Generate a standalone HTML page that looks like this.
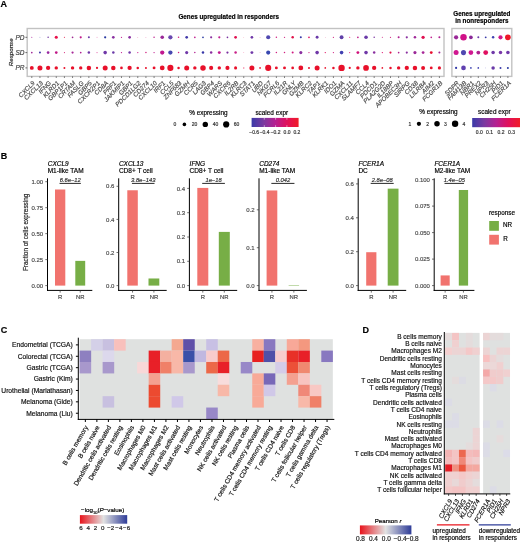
<!DOCTYPE html>
<html><head><meta charset="utf-8"><style>
html,body{margin:0;padding:0;background:#fff;width:520px;height:544px;overflow:hidden;}
svg{display:block;will-change:transform;}
text{font-family:"Liberation Sans", sans-serif;}
</style></head><body>
<svg width="520" height="544" viewBox="0 0 520 544">
<text x="0.60" y="7.20" font-size="9" font-weight="bold" stroke="#000" stroke-width="0.18">A</text>
<text x="228.70" y="19.30" font-size="6.3" text-anchor="middle" font-weight="bold" stroke="#000" stroke-width="0.18">Genes upregulated in responders</text>
<text x="481.85" y="15.60" font-size="6.3" text-anchor="middle" font-weight="bold" stroke="#000" stroke-width="0.18">Genes upregulated</text>
<text x="481.85" y="22.80" font-size="6.3" text-anchor="middle" font-weight="bold" stroke="#000" stroke-width="0.18">in nonresponders</text>
<rect x="27.2" y="28.5" width="416.80" height="47.90" fill="#fff" stroke="#c2c2c2" stroke-width="1.4"/>
<rect x="451.9" y="28.5" width="59.90" height="47.90" fill="#fff" stroke="#c2c2c2" stroke-width="1.4"/>
<text x="24.50" y="39.60" font-size="6.5" text-anchor="end" font-style="italic" fill="#444" stroke="#444" stroke-width="0.18">PD</text>
<line x1="25.40" y1="37.30" x2="27.20" y2="37.30" stroke="#333" stroke-width="0.7"/>
<text x="24.50" y="54.90" font-size="6.5" text-anchor="end" font-style="italic" fill="#444" stroke="#444" stroke-width="0.18">SD</text>
<line x1="25.40" y1="52.60" x2="27.20" y2="52.60" stroke="#333" stroke-width="0.7"/>
<text x="24.50" y="70.20" font-size="6.5" text-anchor="end" font-style="italic" fill="#444" stroke="#444" stroke-width="0.18">PR</text>
<line x1="25.40" y1="67.90" x2="27.20" y2="67.90" stroke="#333" stroke-width="0.7"/>
<text x="12.60" y="52.30" font-size="6.2" text-anchor="middle" font-style="italic" fill="#222" stroke="#222" stroke-width="0.18" transform="rotate(-90 12.60 52.30)">Response</text>
<circle cx="31.80" cy="37.30" r="0.55" fill="#b030a0"/>
<circle cx="31.80" cy="52.60" r="0.85" fill="#a02898"/>
<circle cx="31.80" cy="67.90" r="1.95" fill="#e8102a"/>
<line x1="31.80" y1="76.40" x2="31.80" y2="77.90" stroke="#333" stroke-width="0.7"/>
<text x="35.30" y="83.60" font-size="6.3" text-anchor="end" font-style="italic" fill="#4d4d4d" stroke="#4d4d4d" stroke-width="0.18" transform="rotate(-45 35.30 83.60)">CXCL9</text>
<circle cx="39.95" cy="37.30" r="0.45" fill="#8080c8"/>
<circle cx="39.95" cy="52.60" r="1.00" fill="#4038a8"/>
<circle cx="39.95" cy="67.90" r="2.50" fill="#e8102a"/>
<line x1="39.95" y1="76.40" x2="39.95" y2="77.90" stroke="#333" stroke-width="0.7"/>
<text x="43.45" y="83.60" font-size="6.3" text-anchor="end" font-style="italic" fill="#4d4d4d" stroke="#4d4d4d" stroke-width="0.18" transform="rotate(-45 43.45 83.60)">CXCL13</text>
<circle cx="48.10" cy="37.30" r="0.75" fill="#7038a0"/>
<circle cx="48.10" cy="52.60" r="1.35" fill="#9828a0"/>
<circle cx="48.10" cy="67.90" r="2.15" fill="#e8102a"/>
<line x1="48.10" y1="76.40" x2="48.10" y2="77.90" stroke="#333" stroke-width="0.7"/>
<text x="51.60" y="83.60" font-size="6.3" text-anchor="end" font-style="italic" fill="#4d4d4d" stroke="#4d4d4d" stroke-width="0.18" transform="rotate(-45 51.60 83.60)">IFNG</text>
<circle cx="56.26" cy="37.30" r="1.55" fill="#e8104a"/>
<circle cx="56.26" cy="52.60" r="1.35" fill="#c01888"/>
<circle cx="56.26" cy="67.90" r="1.70" fill="#e8102a"/>
<line x1="56.26" y1="76.40" x2="56.26" y2="77.90" stroke="#333" stroke-width="0.7"/>
<text x="59.76" y="83.60" font-size="6.3" text-anchor="end" font-style="italic" fill="#4d4d4d" stroke="#4d4d4d" stroke-width="0.18" transform="rotate(-45 59.76 83.60)">KLRD1</text>
<circle cx="64.41" cy="37.30" r="0.55" fill="#e01040"/>
<circle cx="64.41" cy="52.60" r="0.55" fill="#d01870"/>
<circle cx="64.41" cy="67.90" r="1.00" fill="#e8102a"/>
<line x1="64.41" y1="76.40" x2="64.41" y2="77.90" stroke="#333" stroke-width="0.7"/>
<text x="67.91" y="83.60" font-size="6.3" text-anchor="end" font-style="italic" fill="#4d4d4d" stroke="#4d4d4d" stroke-width="0.18" transform="rotate(-45 67.91 83.60)">GBP1P1</text>
<circle cx="72.56" cy="37.30" r="0.85" fill="#a02890"/>
<circle cx="72.56" cy="52.60" r="1.10" fill="#a82898"/>
<circle cx="72.56" cy="67.90" r="1.70" fill="#e8102a"/>
<line x1="72.56" y1="76.40" x2="72.56" y2="77.90" stroke="#333" stroke-width="0.7"/>
<text x="76.06" y="83.60" font-size="6.3" text-anchor="end" font-style="italic" fill="#4d4d4d" stroke="#4d4d4d" stroke-width="0.18" transform="rotate(-45 76.06 83.60)">CRTAM</text>
<circle cx="80.71" cy="37.30" r="1.10" fill="#c0188a"/>
<circle cx="80.71" cy="52.60" r="0.85" fill="#b02090"/>
<circle cx="80.71" cy="67.90" r="1.70" fill="#e8102a"/>
<line x1="80.71" y1="76.40" x2="80.71" y2="77.90" stroke="#333" stroke-width="0.7"/>
<text x="84.21" y="83.60" font-size="6.3" text-anchor="end" font-style="italic" fill="#4d4d4d" stroke="#4d4d4d" stroke-width="0.18" transform="rotate(-45 84.21 83.60)">FASLG</text>
<circle cx="88.86" cy="37.30" r="1.00" fill="#6a3aa8"/>
<circle cx="88.86" cy="52.60" r="1.25" fill="#7038a8"/>
<circle cx="88.86" cy="67.90" r="2.25" fill="#e8102a"/>
<line x1="88.86" y1="76.40" x2="88.86" y2="77.90" stroke="#333" stroke-width="0.7"/>
<text x="92.36" y="83.60" font-size="6.3" text-anchor="end" font-style="italic" fill="#4d4d4d" stroke="#4d4d4d" stroke-width="0.18" transform="rotate(-45 92.36 83.60)">GBP5</text>
<circle cx="97.02" cy="37.30" r="0.45" fill="#e060a8"/>
<circle cx="97.02" cy="52.60" r="0.55" fill="#e050a0"/>
<circle cx="97.02" cy="67.90" r="1.10" fill="#e8102a"/>
<line x1="97.02" y1="76.40" x2="97.02" y2="77.90" stroke="#333" stroke-width="0.7"/>
<text x="100.52" y="83.60" font-size="6.3" text-anchor="end" font-style="italic" fill="#4d4d4d" stroke="#4d4d4d" stroke-width="0.18" transform="rotate(-45 100.52 83.60)">CXCR2P1</text>
<circle cx="105.17" cy="37.30" r="1.10" fill="#2838a0"/>
<circle cx="105.17" cy="52.60" r="1.80" fill="#7038a8"/>
<circle cx="105.17" cy="67.90" r="2.50" fill="#e8102a"/>
<line x1="105.17" y1="76.40" x2="105.17" y2="77.90" stroke="#333" stroke-width="0.7"/>
<text x="108.67" y="83.60" font-size="6.3" text-anchor="end" font-style="italic" fill="#4d4d4d" stroke="#4d4d4d" stroke-width="0.18" transform="rotate(-45 108.67 83.60)">CD8A</text>
<circle cx="113.32" cy="37.30" r="1.35" fill="#8a30a0"/>
<circle cx="113.32" cy="52.60" r="1.25" fill="#6a3aa8"/>
<circle cx="113.32" cy="67.90" r="2.25" fill="#e8102a"/>
<line x1="113.32" y1="76.40" x2="113.32" y2="77.90" stroke="#333" stroke-width="0.7"/>
<text x="116.82" y="83.60" font-size="6.3" text-anchor="end" font-style="italic" fill="#4d4d4d" stroke="#4d4d4d" stroke-width="0.18" transform="rotate(-45 116.82 83.60)">PRF1</text>
<circle cx="121.47" cy="37.30" r="0.65" fill="#c01890"/>
<circle cx="121.47" cy="52.60" r="0.65" fill="#c01890"/>
<circle cx="121.47" cy="67.90" r="1.35" fill="#e8102a"/>
<line x1="121.47" y1="76.40" x2="121.47" y2="77.90" stroke="#333" stroke-width="0.7"/>
<text x="124.97" y="83.60" font-size="6.3" text-anchor="end" font-style="italic" fill="#4d4d4d" stroke="#4d4d4d" stroke-width="0.18" transform="rotate(-45 124.97 83.60)">JAKMIP1</text>
<circle cx="129.62" cy="37.30" r="1.35" fill="#8a30a0"/>
<circle cx="129.62" cy="52.60" r="1.25" fill="#7038a8"/>
<circle cx="129.62" cy="67.90" r="2.15" fill="#e8102a"/>
<line x1="129.62" y1="76.40" x2="129.62" y2="77.90" stroke="#333" stroke-width="0.7"/>
<text x="133.12" y="83.60" font-size="6.3" text-anchor="end" font-style="italic" fill="#4d4d4d" stroke="#4d4d4d" stroke-width="0.18" transform="rotate(-45 133.12 83.60)">GBP1</text>
<circle cx="137.78" cy="37.30" r="0.40" fill="#e060a0"/>
<circle cx="137.78" cy="52.60" r="0.65" fill="#d02090"/>
<circle cx="137.78" cy="67.90" r="1.25" fill="#e8102a"/>
<line x1="137.78" y1="76.40" x2="137.78" y2="77.90" stroke="#333" stroke-width="0.7"/>
<text x="141.28" y="83.60" font-size="6.3" text-anchor="end" font-style="italic" fill="#4d4d4d" stroke="#4d4d4d" stroke-width="0.18" transform="rotate(-45 141.28 83.60)">PDCD1LG2</text>
<circle cx="145.93" cy="37.30" r="0.40" fill="#e060a0"/>
<circle cx="145.93" cy="52.60" r="0.75" fill="#d02080"/>
<circle cx="145.93" cy="67.90" r="1.00" fill="#e8102a"/>
<line x1="145.93" y1="76.40" x2="145.93" y2="77.90" stroke="#333" stroke-width="0.7"/>
<text x="149.43" y="83.60" font-size="6.3" text-anchor="end" font-style="italic" fill="#4d4d4d" stroke="#4d4d4d" stroke-width="0.18" transform="rotate(-45 149.43 83.60)">CD274</text>
<circle cx="154.08" cy="37.30" r="0.75" fill="#c02090"/>
<circle cx="154.08" cy="52.60" r="0.65" fill="#c02090"/>
<circle cx="154.08" cy="67.90" r="1.45" fill="#e8102a"/>
<line x1="154.08" y1="76.40" x2="154.08" y2="77.90" stroke="#333" stroke-width="0.7"/>
<text x="157.58" y="83.60" font-size="6.3" text-anchor="end" font-style="italic" fill="#4d4d4d" stroke="#4d4d4d" stroke-width="0.18" transform="rotate(-45 157.58 83.60)">CXCL10</text>
<circle cx="162.23" cy="37.30" r="1.80" fill="#9a2898"/>
<circle cx="162.23" cy="52.60" r="2.15" fill="#c01890"/>
<circle cx="162.23" cy="67.90" r="2.40" fill="#e8102a"/>
<line x1="162.23" y1="76.40" x2="162.23" y2="77.90" stroke="#333" stroke-width="0.7"/>
<text x="165.73" y="83.60" font-size="6.3" text-anchor="end" font-style="italic" fill="#4d4d4d" stroke="#4d4d4d" stroke-width="0.18" transform="rotate(-45 165.73 83.60)">IRF1</text>
<circle cx="170.38" cy="37.30" r="2.15" fill="#6a48b0"/>
<circle cx="170.38" cy="52.60" r="2.15" fill="#4848b0"/>
<circle cx="170.38" cy="67.90" r="3.05" fill="#e8102a"/>
<line x1="170.38" y1="76.40" x2="170.38" y2="77.90" stroke="#333" stroke-width="0.7"/>
<text x="173.88" y="83.60" font-size="6.3" text-anchor="end" font-style="italic" fill="#4d4d4d" stroke="#4d4d4d" stroke-width="0.18" transform="rotate(-45 173.88 83.60)">CCL5</text>
<circle cx="178.54" cy="37.30" r="0.75" fill="#d02080"/>
<circle cx="178.54" cy="52.60" r="0.75" fill="#d02080"/>
<circle cx="178.54" cy="67.90" r="1.25" fill="#e8102a"/>
<line x1="178.54" y1="76.40" x2="178.54" y2="77.90" stroke="#333" stroke-width="0.7"/>
<text x="182.04" y="83.60" font-size="6.3" text-anchor="end" font-style="italic" fill="#4d4d4d" stroke="#4d4d4d" stroke-width="0.18" transform="rotate(-45 182.04 83.60)">ZNF683</text>
<circle cx="186.69" cy="37.30" r="1.35" fill="#4038a8"/>
<circle cx="186.69" cy="52.60" r="1.55" fill="#7038a8"/>
<circle cx="186.69" cy="67.90" r="2.50" fill="#e8102a"/>
<line x1="186.69" y1="76.40" x2="186.69" y2="77.90" stroke="#333" stroke-width="0.7"/>
<text x="190.19" y="83.60" font-size="6.3" text-anchor="end" font-style="italic" fill="#4d4d4d" stroke="#4d4d4d" stroke-width="0.18" transform="rotate(-45 190.19 83.60)">GZMH</text>
<circle cx="194.84" cy="37.30" r="0.85" fill="#c02090"/>
<circle cx="194.84" cy="52.60" r="0.75" fill="#b02090"/>
<circle cx="194.84" cy="67.90" r="1.70" fill="#e8102a"/>
<line x1="194.84" y1="76.40" x2="194.84" y2="77.90" stroke="#333" stroke-width="0.7"/>
<text x="198.34" y="83.60" font-size="6.3" text-anchor="end" font-style="italic" fill="#4d4d4d" stroke="#4d4d4d" stroke-width="0.18" transform="rotate(-45 198.34 83.60)">CCR5</text>
<circle cx="202.99" cy="37.30" r="0.85" fill="#2838a0"/>
<circle cx="202.99" cy="52.60" r="1.25" fill="#3838a8"/>
<circle cx="202.99" cy="67.90" r="2.75" fill="#e8102a"/>
<line x1="202.99" y1="76.40" x2="202.99" y2="77.90" stroke="#333" stroke-width="0.7"/>
<text x="206.49" y="83.60" font-size="6.3" text-anchor="end" font-style="italic" fill="#4d4d4d" stroke="#4d4d4d" stroke-width="0.18" transform="rotate(-45 206.49 83.60)">LAG3</text>
<circle cx="211.14" cy="37.30" r="1.10" fill="#8a30a0"/>
<circle cx="211.14" cy="52.60" r="1.25" fill="#8a30a0"/>
<circle cx="211.14" cy="67.90" r="2.05" fill="#e8102a"/>
<line x1="211.14" y1="76.40" x2="211.14" y2="77.90" stroke="#333" stroke-width="0.7"/>
<text x="214.64" y="83.60" font-size="6.3" text-anchor="end" font-style="italic" fill="#4d4d4d" stroke="#4d4d4d" stroke-width="0.18" transform="rotate(-45 214.64 83.60)">GBP4</text>
<circle cx="219.30" cy="37.30" r="1.10" fill="#c02090"/>
<circle cx="219.30" cy="52.60" r="1.45" fill="#c01890"/>
<circle cx="219.30" cy="67.90" r="1.70" fill="#e8102a"/>
<line x1="219.30" y1="76.40" x2="219.30" y2="77.90" stroke="#333" stroke-width="0.7"/>
<text x="222.80" y="83.60" font-size="6.3" text-anchor="end" font-style="italic" fill="#4d4d4d" stroke="#4d4d4d" stroke-width="0.18" transform="rotate(-45 222.80 83.60)">WARS</text>
<circle cx="227.45" cy="37.30" r="0.85" fill="#7a30a0"/>
<circle cx="227.45" cy="52.60" r="1.10" fill="#7a30a0"/>
<circle cx="227.45" cy="67.90" r="2.05" fill="#e8102a"/>
<line x1="227.45" y1="76.40" x2="227.45" y2="77.90" stroke="#333" stroke-width="0.7"/>
<text x="230.95" y="83.60" font-size="6.3" text-anchor="end" font-style="italic" fill="#4d4d4d" stroke="#4d4d4d" stroke-width="0.18" transform="rotate(-45 230.95 83.60)">CXCR6</text>
<circle cx="235.60" cy="37.30" r="1.35" fill="#e01050"/>
<circle cx="235.60" cy="52.60" r="1.25" fill="#c82088"/>
<circle cx="235.60" cy="67.90" r="1.55" fill="#e8102a"/>
<line x1="235.60" y1="76.40" x2="235.60" y2="77.90" stroke="#333" stroke-width="0.7"/>
<text x="239.10" y="83.60" font-size="6.3" text-anchor="end" font-style="italic" fill="#4d4d4d" stroke="#4d4d4d" stroke-width="0.18" transform="rotate(-45 239.10 83.60)">IL2RB</text>
<circle cx="243.75" cy="37.30" r="0.35" fill="#f080a0"/>
<circle cx="243.75" cy="52.60" r="0.45" fill="#f070a0"/>
<circle cx="243.75" cy="67.90" r="0.75" fill="#f07090"/>
<line x1="243.75" y1="76.40" x2="243.75" y2="77.90" stroke="#333" stroke-width="0.7"/>
<text x="247.25" y="83.60" font-size="6.3" text-anchor="end" font-style="italic" fill="#4d4d4d" stroke="#4d4d4d" stroke-width="0.18" transform="rotate(-45 247.25 83.60)">KLRC3</text>
<circle cx="251.90" cy="37.30" r="1.35" fill="#7038a8"/>
<circle cx="251.90" cy="52.60" r="1.45" fill="#7038a8"/>
<circle cx="251.90" cy="67.90" r="2.50" fill="#e8102a"/>
<line x1="251.90" y1="76.40" x2="251.90" y2="77.90" stroke="#333" stroke-width="0.7"/>
<text x="255.40" y="83.60" font-size="6.3" text-anchor="end" font-style="italic" fill="#4d4d4d" stroke="#4d4d4d" stroke-width="0.18" transform="rotate(-45 255.40 83.60)">STAT1</text>
<circle cx="260.06" cy="37.30" r="0.40" fill="#e060a0"/>
<circle cx="260.06" cy="52.60" r="0.40" fill="#e060a0"/>
<circle cx="260.06" cy="67.90" r="0.85" fill="#e8102a"/>
<line x1="260.06" y1="76.40" x2="260.06" y2="77.90" stroke="#333" stroke-width="0.7"/>
<text x="263.56" y="83.60" font-size="6.3" text-anchor="end" font-style="italic" fill="#4d4d4d" stroke="#4d4d4d" stroke-width="0.18" transform="rotate(-45 263.56 83.60)">UBD</text>
<circle cx="268.21" cy="37.30" r="2.05" fill="#5048b0"/>
<circle cx="268.21" cy="52.60" r="2.05" fill="#3848b0"/>
<circle cx="268.21" cy="67.90" r="3.05" fill="#e8102a"/>
<line x1="268.21" y1="76.40" x2="268.21" y2="77.90" stroke="#333" stroke-width="0.7"/>
<text x="271.71" y="83.60" font-size="6.3" text-anchor="end" font-style="italic" fill="#4d4d4d" stroke="#4d4d4d" stroke-width="0.18" transform="rotate(-45 271.71 83.60)">NKG7</text>
<circle cx="276.36" cy="37.30" r="0.75" fill="#d02080"/>
<circle cx="276.36" cy="52.60" r="0.75" fill="#d02080"/>
<circle cx="276.36" cy="67.90" r="1.45" fill="#e8102a"/>
<line x1="276.36" y1="76.40" x2="276.36" y2="77.90" stroke="#333" stroke-width="0.7"/>
<text x="279.86" y="83.60" font-size="6.3" text-anchor="end" font-style="italic" fill="#4d4d4d" stroke="#4d4d4d" stroke-width="0.18" transform="rotate(-45 279.86 83.60)">FCRL6</text>
<circle cx="284.51" cy="37.30" r="0.65" fill="#d02080"/>
<circle cx="284.51" cy="52.60" r="0.75" fill="#d02080"/>
<circle cx="284.51" cy="67.90" r="1.45" fill="#e8102a"/>
<line x1="284.51" y1="76.40" x2="284.51" y2="77.90" stroke="#333" stroke-width="0.7"/>
<text x="288.01" y="83.60" font-size="6.3" text-anchor="end" font-style="italic" fill="#4d4d4d" stroke="#4d4d4d" stroke-width="0.18" transform="rotate(-45 288.01 83.60)">IL21R</text>
<circle cx="292.66" cy="37.30" r="1.25" fill="#e01048"/>
<circle cx="292.66" cy="52.60" r="1.00" fill="#d01880"/>
<circle cx="292.66" cy="67.90" r="1.35" fill="#e8102a"/>
<line x1="292.66" y1="76.40" x2="292.66" y2="77.90" stroke="#333" stroke-width="0.7"/>
<text x="296.16" y="83.60" font-size="6.3" text-anchor="end" font-style="italic" fill="#4d4d4d" stroke="#4d4d4d" stroke-width="0.18" transform="rotate(-45 296.16 83.60)">GNLY</text>
<circle cx="300.82" cy="37.30" r="1.00" fill="#3838a8"/>
<circle cx="300.82" cy="52.60" r="1.55" fill="#8a30a0"/>
<circle cx="300.82" cy="67.90" r="2.40" fill="#e8102a"/>
<line x1="300.82" y1="76.40" x2="300.82" y2="77.90" stroke="#333" stroke-width="0.7"/>
<text x="304.32" y="83.60" font-size="6.3" text-anchor="end" font-style="italic" fill="#4d4d4d" stroke="#4d4d4d" stroke-width="0.18" transform="rotate(-45 304.32 83.60)">GZMB</text>
<circle cx="308.97" cy="37.30" r="0.85" fill="#e01060"/>
<circle cx="308.97" cy="52.60" r="0.65" fill="#d02080"/>
<circle cx="308.97" cy="67.90" r="1.00" fill="#e8102a"/>
<line x1="308.97" y1="76.40" x2="308.97" y2="77.90" stroke="#333" stroke-width="0.7"/>
<text x="312.47" y="83.60" font-size="6.3" text-anchor="end" font-style="italic" fill="#4d4d4d" stroke="#4d4d4d" stroke-width="0.18" transform="rotate(-45 312.47 83.60)">KLRC2</text>
<circle cx="317.12" cy="37.30" r="1.45" fill="#6a3aa8"/>
<circle cx="317.12" cy="52.60" r="1.80" fill="#7038a8"/>
<circle cx="317.12" cy="67.90" r="2.50" fill="#e8102a"/>
<line x1="317.12" y1="76.40" x2="317.12" y2="77.90" stroke="#333" stroke-width="0.7"/>
<text x="320.62" y="83.60" font-size="6.3" text-anchor="end" font-style="italic" fill="#4d4d4d" stroke="#4d4d4d" stroke-width="0.18" transform="rotate(-45 320.62 83.60)">TAP1</text>
<circle cx="325.27" cy="37.30" r="0.35" fill="#e070a0"/>
<circle cx="325.27" cy="52.60" r="0.65" fill="#e01060"/>
<circle cx="325.27" cy="67.90" r="0.85" fill="#e8102a"/>
<line x1="325.27" y1="76.40" x2="325.27" y2="77.90" stroke="#333" stroke-width="0.7"/>
<text x="328.77" y="83.60" font-size="6.3" text-anchor="end" font-style="italic" fill="#4d4d4d" stroke="#4d4d4d" stroke-width="0.18" transform="rotate(-45 328.77 83.60)">KLRK1</text>
<circle cx="333.42" cy="37.30" r="0.65" fill="#d02080"/>
<circle cx="333.42" cy="52.60" r="0.65" fill="#d02080"/>
<circle cx="333.42" cy="67.90" r="1.25" fill="#e8102a"/>
<line x1="333.42" y1="76.40" x2="333.42" y2="77.90" stroke="#333" stroke-width="0.7"/>
<text x="336.92" y="83.60" font-size="6.3" text-anchor="end" font-style="italic" fill="#4d4d4d" stroke="#4d4d4d" stroke-width="0.18" transform="rotate(-45 336.92 83.60)">IDO1</text>
<circle cx="341.58" cy="37.30" r="1.95" fill="#6040a8"/>
<circle cx="341.58" cy="52.60" r="1.80" fill="#4040b0"/>
<circle cx="341.58" cy="67.90" r="3.20" fill="#e8102a"/>
<line x1="341.58" y1="76.40" x2="341.58" y2="77.90" stroke="#333" stroke-width="0.7"/>
<text x="345.08" y="83.60" font-size="6.3" text-anchor="end" font-style="italic" fill="#4d4d4d" stroke="#4d4d4d" stroke-width="0.18" transform="rotate(-45 345.08 83.60)">GZMA</text>
<circle cx="349.73" cy="37.30" r="0.55" fill="#e01070"/>
<circle cx="349.73" cy="52.60" r="0.55" fill="#e01070"/>
<circle cx="349.73" cy="67.90" r="1.10" fill="#e8102a"/>
<line x1="349.73" y1="76.40" x2="349.73" y2="77.90" stroke="#333" stroke-width="0.7"/>
<text x="353.23" y="83.60" font-size="6.3" text-anchor="end" font-style="italic" fill="#4d4d4d" stroke="#4d4d4d" stroke-width="0.18" transform="rotate(-45 353.23 83.60)">CXCL11</text>
<circle cx="357.88" cy="37.30" r="0.85" fill="#c02088"/>
<circle cx="357.88" cy="52.60" r="1.45" fill="#d0107a"/>
<circle cx="357.88" cy="67.90" r="1.70" fill="#e8102a"/>
<line x1="357.88" y1="76.40" x2="357.88" y2="77.90" stroke="#333" stroke-width="0.7"/>
<text x="361.38" y="83.60" font-size="6.3" text-anchor="end" font-style="italic" fill="#4d4d4d" stroke="#4d4d4d" stroke-width="0.18" transform="rotate(-45 361.38 83.60)">SLAMF7</text>
<circle cx="366.03" cy="37.30" r="1.80" fill="#6a3aa8"/>
<circle cx="366.03" cy="52.60" r="1.80" fill="#7038a8"/>
<circle cx="366.03" cy="67.90" r="2.85" fill="#e8102a"/>
<line x1="366.03" y1="76.40" x2="366.03" y2="77.90" stroke="#333" stroke-width="0.7"/>
<text x="369.53" y="83.60" font-size="6.3" text-anchor="end" font-style="italic" fill="#4d4d4d" stroke="#4d4d4d" stroke-width="0.18" transform="rotate(-45 369.53 83.60)">CCL4</text>
<circle cx="374.18" cy="37.30" r="0.75" fill="#7a30a0"/>
<circle cx="374.18" cy="52.60" r="1.25" fill="#8a30a0"/>
<circle cx="374.18" cy="67.90" r="2.15" fill="#e8102a"/>
<line x1="374.18" y1="76.40" x2="374.18" y2="77.90" stroke="#333" stroke-width="0.7"/>
<text x="377.68" y="83.60" font-size="6.3" text-anchor="end" font-style="italic" fill="#4d4d4d" stroke="#4d4d4d" stroke-width="0.18" transform="rotate(-45 377.68 83.60)">PDCD1</text>
<circle cx="382.34" cy="37.30" r="0.55" fill="#d02080"/>
<circle cx="382.34" cy="52.60" r="0.65" fill="#e01070"/>
<circle cx="382.34" cy="67.90" r="0.85" fill="#e8102a"/>
<line x1="382.34" y1="76.40" x2="382.34" y2="77.90" stroke="#333" stroke-width="0.7"/>
<text x="385.84" y="83.60" font-size="6.3" text-anchor="end" font-style="italic" fill="#4d4d4d" stroke="#4d4d4d" stroke-width="0.18" transform="rotate(-45 385.84 83.60)">PLA2G2D</text>
<circle cx="390.49" cy="37.30" r="0.65" fill="#d02080"/>
<circle cx="390.49" cy="52.60" r="1.10" fill="#e01048"/>
<circle cx="390.49" cy="67.90" r="1.25" fill="#e8102a"/>
<line x1="390.49" y1="76.40" x2="390.49" y2="77.90" stroke="#333" stroke-width="0.7"/>
<text x="393.99" y="83.60" font-size="6.3" text-anchor="end" font-style="italic" fill="#4d4d4d" stroke="#4d4d4d" stroke-width="0.18" transform="rotate(-45 393.99 83.60)">IL18BP</text>
<circle cx="398.64" cy="37.30" r="1.00" fill="#b02090"/>
<circle cx="398.64" cy="52.60" r="0.85" fill="#b02090"/>
<circle cx="398.64" cy="67.90" r="1.70" fill="#e8102a"/>
<line x1="398.64" y1="76.40" x2="398.64" y2="77.90" stroke="#333" stroke-width="0.7"/>
<text x="402.14" y="83.60" font-size="6.3" text-anchor="end" font-style="italic" fill="#4d4d4d" stroke="#4d4d4d" stroke-width="0.18" transform="rotate(-45 402.14 83.60)">APOBEC3H</text>
<circle cx="406.79" cy="37.30" r="1.10" fill="#8a30a0"/>
<circle cx="406.79" cy="52.60" r="1.10" fill="#8a30a0"/>
<circle cx="406.79" cy="67.90" r="2.15" fill="#e8102a"/>
<line x1="406.79" y1="76.40" x2="406.79" y2="77.90" stroke="#333" stroke-width="0.7"/>
<text x="410.29" y="83.60" font-size="6.3" text-anchor="end" font-style="italic" fill="#4d4d4d" stroke="#4d4d4d" stroke-width="0.18" transform="rotate(-45 410.29 83.60)">SIRPG</text>
<circle cx="414.94" cy="37.30" r="1.25" fill="#a02898"/>
<circle cx="414.94" cy="52.60" r="1.55" fill="#9a2898"/>
<circle cx="414.94" cy="67.90" r="2.25" fill="#e8102a"/>
<line x1="414.94" y1="76.40" x2="414.94" y2="77.90" stroke="#333" stroke-width="0.7"/>
<text x="418.44" y="83.60" font-size="6.3" text-anchor="end" font-style="italic" fill="#4d4d4d" stroke="#4d4d4d" stroke-width="0.18" transform="rotate(-45 418.44 83.60)">CD38</text>
<circle cx="423.10" cy="37.30" r="1.65" fill="#e01050"/>
<circle cx="423.10" cy="52.60" r="1.40" fill="#a82898"/>
<circle cx="423.10" cy="67.90" r="2.00" fill="#e8102a"/>
<line x1="423.10" y1="76.40" x2="423.10" y2="77.90" stroke="#333" stroke-width="0.7"/>
<text x="426.60" y="83.60" font-size="6.3" text-anchor="end" font-style="italic" fill="#4d4d4d" stroke="#4d4d4d" stroke-width="0.18" transform="rotate(-45 426.60 83.60)">LILRB4</text>
<circle cx="431.25" cy="37.30" r="0.85" fill="#c02090"/>
<circle cx="431.25" cy="52.60" r="1.42" fill="#e81030"/>
<circle cx="431.25" cy="67.90" r="1.42" fill="#e8102a"/>
<line x1="431.25" y1="76.40" x2="431.25" y2="77.90" stroke="#333" stroke-width="0.7"/>
<text x="434.75" y="83.60" font-size="6.3" text-anchor="end" font-style="italic" fill="#4d4d4d" stroke="#4d4d4d" stroke-width="0.18" transform="rotate(-45 434.75 83.60)">AIM2</text>
<circle cx="439.40" cy="37.30" r="1.00" fill="#b02090"/>
<circle cx="439.40" cy="52.60" r="1.00" fill="#a02898"/>
<circle cx="439.40" cy="67.90" r="1.60" fill="#e8102a"/>
<line x1="439.40" y1="76.40" x2="439.40" y2="77.90" stroke="#333" stroke-width="0.7"/>
<text x="442.90" y="83.60" font-size="6.3" text-anchor="end" font-style="italic" fill="#4d4d4d" stroke="#4d4d4d" stroke-width="0.18" transform="rotate(-45 442.90 83.60)">FCGR1B</text>
<circle cx="456.10" cy="37.30" r="2.12" fill="#9a2898"/>
<circle cx="456.10" cy="52.60" r="2.50" fill="#d01890"/>
<circle cx="456.10" cy="67.90" r="1.09" fill="#3038a8"/>
<line x1="456.10" y1="76.40" x2="456.10" y2="77.90" stroke="#333" stroke-width="0.7"/>
<text x="459.60" y="83.60" font-size="6.3" text-anchor="end" font-style="italic" fill="#4d4d4d" stroke="#4d4d4d" stroke-width="0.18" transform="rotate(-45 459.60 83.60)">SDPR</text>
<circle cx="463.50" cy="37.30" r="3.25" fill="#d01088"/>
<circle cx="463.50" cy="52.60" r="2.55" fill="#5048b0"/>
<circle cx="463.50" cy="67.90" r="2.35" fill="#6040b0"/>
<line x1="463.50" y1="76.40" x2="463.50" y2="77.90" stroke="#333" stroke-width="0.7"/>
<text x="467.00" y="83.60" font-size="6.3" text-anchor="end" font-style="italic" fill="#4d4d4d" stroke="#4d4d4d" stroke-width="0.18" transform="rotate(-45 467.00 83.60)">FAM13B</text>
<circle cx="470.90" cy="37.30" r="1.85" fill="#8a2898"/>
<circle cx="470.90" cy="52.60" r="2.35" fill="#d01890"/>
<circle cx="470.90" cy="67.90" r="0.85" fill="#3840b0"/>
<line x1="470.90" y1="76.40" x2="470.90" y2="77.90" stroke="#333" stroke-width="0.7"/>
<text x="474.40" y="83.60" font-size="6.3" text-anchor="end" font-style="italic" fill="#4d4d4d" stroke="#4d4d4d" stroke-width="0.18" transform="rotate(-45 474.40 83.60)">NBR1</text>
<circle cx="478.30" cy="37.30" r="1.00" fill="#6a3aa8"/>
<circle cx="478.30" cy="52.60" r="1.92" fill="#b02090"/>
<circle cx="478.30" cy="67.90" r="0.85" fill="#4040b0"/>
<line x1="478.30" y1="76.40" x2="478.30" y2="77.90" stroke="#333" stroke-width="0.7"/>
<text x="481.80" y="83.60" font-size="6.3" text-anchor="end" font-style="italic" fill="#4d4d4d" stroke="#4d4d4d" stroke-width="0.18" transform="rotate(-45 481.80 83.60)">PREX2</text>
<circle cx="485.70" cy="37.30" r="0.92" fill="#3838a8"/>
<circle cx="485.70" cy="52.60" r="2.41" fill="#e01060"/>
<circle cx="485.70" cy="67.90" r="0.35" fill="#8080d0"/>
<line x1="485.70" y1="76.40" x2="485.70" y2="77.90" stroke="#333" stroke-width="0.7"/>
<text x="489.20" y="83.60" font-size="6.3" text-anchor="end" font-style="italic" fill="#4d4d4d" stroke="#4d4d4d" stroke-width="0.18" transform="rotate(-45 489.20 83.60)">NPR3</text>
<circle cx="493.10" cy="37.30" r="1.25" fill="#4040b0"/>
<circle cx="493.10" cy="52.60" r="1.75" fill="#7038a8"/>
<circle cx="493.10" cy="67.90" r="1.75" fill="#6a3aa8"/>
<line x1="493.10" y1="76.40" x2="493.10" y2="77.90" stroke="#333" stroke-width="0.7"/>
<text x="496.60" y="83.60" font-size="6.3" text-anchor="end" font-style="italic" fill="#4d4d4d" stroke="#4d4d4d" stroke-width="0.18" transform="rotate(-45 496.60 83.60)">CH25H</text>
<circle cx="500.50" cy="37.30" r="2.08" fill="#d01888"/>
<circle cx="500.50" cy="52.60" r="1.75" fill="#7a38a8"/>
<circle cx="500.50" cy="67.90" r="1.00" fill="#3838a8"/>
<line x1="500.50" y1="76.40" x2="500.50" y2="77.90" stroke="#333" stroke-width="0.7"/>
<text x="504.00" y="83.60" font-size="6.3" text-anchor="end" font-style="italic" fill="#4d4d4d" stroke="#4d4d4d" stroke-width="0.18" transform="rotate(-45 504.00 83.60)">PID1</text>
<circle cx="507.90" cy="37.30" r="2.85" fill="#ee1828"/>
<circle cx="507.90" cy="52.60" r="1.75" fill="#7038a8"/>
<circle cx="507.90" cy="67.90" r="1.00" fill="#2838a0"/>
<line x1="507.90" y1="76.40" x2="507.90" y2="77.90" stroke="#333" stroke-width="0.7"/>
<text x="511.40" y="83.60" font-size="6.3" text-anchor="end" font-style="italic" fill="#4d4d4d" stroke="#4d4d4d" stroke-width="0.18" transform="rotate(-45 511.40 83.60)">FCER1A</text>
<text x="189.20" y="114.60" font-size="6.4" stroke="#000" stroke-width="0.18">% expressing</text>
<text x="175.00" y="126.20" font-size="5.0" text-anchor="middle" fill="#333" stroke="#333" stroke-width="0.18">0</text>
<circle cx="184.40" cy="124.40" r="1.80" fill="#000"/>
<text x="194.60" y="126.20" font-size="5.0" text-anchor="middle" fill="#333" stroke="#333" stroke-width="0.18">20</text>
<circle cx="205.30" cy="124.40" r="2.70" fill="#000"/>
<text x="215.50" y="126.20" font-size="5.0" text-anchor="middle" fill="#333" stroke="#333" stroke-width="0.18">40</text>
<circle cx="226.20" cy="124.40" r="3.10" fill="#000"/>
<text x="236.50" y="126.20" font-size="5.0" text-anchor="middle" fill="#333" stroke="#333" stroke-width="0.18">60</text>
<text x="419.20" y="114.40" font-size="6.4" stroke="#000" stroke-width="0.18">% expressing</text>
<text x="410.00" y="125.60" font-size="5.0" text-anchor="middle" fill="#333" stroke="#333" stroke-width="0.18">1</text>
<circle cx="418.90" cy="123.80" r="2.10" fill="#000"/>
<text x="427.70" y="125.60" font-size="5.0" text-anchor="middle" fill="#333" stroke="#333" stroke-width="0.18">2</text>
<circle cx="437.00" cy="123.80" r="2.75" fill="#000"/>
<text x="445.50" y="125.60" font-size="5.0" text-anchor="middle" fill="#333" stroke="#333" stroke-width="0.18">3</text>
<circle cx="455.10" cy="123.80" r="3.20" fill="#000"/>
<text x="463.90" y="125.60" font-size="5.0" text-anchor="middle" fill="#333" stroke="#333" stroke-width="0.18">4</text>
<defs>
<linearGradient id="gA" x1="0" x2="1" y1="0" y2="0">
<stop offset="0" stop-color="#3a3aa8"/><stop offset="0.25" stop-color="#7a3aa0"/><stop offset="0.5" stop-color="#b52092"/><stop offset="0.75" stop-color="#e0105c"/><stop offset="1" stop-color="#f01c28"/>
</linearGradient>
<linearGradient id="gC" x1="0" x2="1" y1="0" y2="0">
<stop offset="0" stop-color="#e8141c"/><stop offset="0.5" stop-color="#e2e2e2"/><stop offset="1" stop-color="#2e3c98"/>
</linearGradient>
</defs>
<text x="255.40" y="114.60" font-size="6.4" stroke="#000" stroke-width="0.18">scaled expr</text>
<rect x="251.60" y="117.90" width="47.00" height="9.10" fill="url(#gA)"/>
<line x1="264.30" y1="117.90" x2="264.30" y2="119.70" stroke="#fff" stroke-width="0.5"/>
<line x1="264.30" y1="125.20" x2="264.30" y2="127.00" stroke="#fff" stroke-width="0.5"/>
<line x1="275.60" y1="117.90" x2="275.60" y2="119.70" stroke="#fff" stroke-width="0.5"/>
<line x1="275.60" y1="125.20" x2="275.60" y2="127.00" stroke="#fff" stroke-width="0.5"/>
<line x1="286.90" y1="117.90" x2="286.90" y2="119.70" stroke="#fff" stroke-width="0.5"/>
<line x1="286.90" y1="125.20" x2="286.90" y2="127.00" stroke="#fff" stroke-width="0.5"/>
<text x="254.20" y="133.90" font-size="5.0" text-anchor="middle" fill="#333" stroke="#333" stroke-width="0.18">−0.6</text>
<text x="264.60" y="133.90" font-size="5.0" text-anchor="middle" fill="#333" stroke="#333" stroke-width="0.18">−0.4</text>
<text x="275.60" y="133.90" font-size="5.0" text-anchor="middle" fill="#333" stroke="#333" stroke-width="0.18">−0.2</text>
<text x="287.10" y="133.90" font-size="5.0" text-anchor="middle" fill="#333" stroke="#333" stroke-width="0.18">0.0</text>
<text x="296.90" y="133.90" font-size="5.0" text-anchor="middle" fill="#333" stroke="#333" stroke-width="0.18">0.2</text>
<text x="478.00" y="114.40" font-size="6.4" stroke="#000" stroke-width="0.18">scaled expr</text>
<rect x="472.20" y="118.00" width="47.80" height="9.20" fill="url(#gA)"/>
<text x="479.20" y="134.10" font-size="5.0" text-anchor="middle" fill="#333" stroke="#333" stroke-width="0.18">0.0</text>
<text x="489.50" y="134.10" font-size="5.0" text-anchor="middle" fill="#333" stroke="#333" stroke-width="0.18">0.1</text>
<text x="501.00" y="134.10" font-size="5.0" text-anchor="middle" fill="#333" stroke="#333" stroke-width="0.18">0.2</text>
<text x="511.50" y="134.10" font-size="5.0" text-anchor="middle" fill="#333" stroke="#333" stroke-width="0.18">0.3</text>
<text x="0.80" y="159.30" font-size="9" font-weight="bold" stroke="#000" stroke-width="0.18">B</text>
<text x="27.90" y="232.40" font-size="6.4" text-anchor="middle" fill="#222" stroke="#222" stroke-width="0.18" transform="rotate(-90 27.90 232.40)">Fraction of cells expressing</text>
<rect x="55.00" y="189.49" width="10.30" height="96.11" fill="#f1736e"/>
<rect x="75.30" y="260.87" width="9.90" height="24.73" fill="#77ae46"/>
<line x1="47.50" y1="178.30" x2="47.50" y2="290.90" stroke="#000" stroke-width="1.0"/>
<line x1="47.00" y1="290.40" x2="92.30" y2="290.40" stroke="#000" stroke-width="1.0"/>
<line x1="45.30" y1="285.60" x2="47.50" y2="285.60" stroke="#333" stroke-width="0.7"/>
<text x="43.20" y="287.70" font-size="6.0" text-anchor="end" fill="#4d4d4d" stroke="#4d4d4d" stroke-width="0.18">0.00</text>
<line x1="45.30" y1="259.62" x2="47.50" y2="259.62" stroke="#333" stroke-width="0.7"/>
<text x="43.20" y="261.73" font-size="6.0" text-anchor="end" fill="#4d4d4d" stroke="#4d4d4d" stroke-width="0.18">0.25</text>
<line x1="45.30" y1="233.65" x2="47.50" y2="233.65" stroke="#333" stroke-width="0.7"/>
<text x="43.20" y="235.75" font-size="6.0" text-anchor="end" fill="#4d4d4d" stroke="#4d4d4d" stroke-width="0.18">0.50</text>
<line x1="45.30" y1="207.68" x2="47.50" y2="207.68" stroke="#333" stroke-width="0.7"/>
<text x="43.20" y="209.78" font-size="6.0" text-anchor="end" fill="#4d4d4d" stroke="#4d4d4d" stroke-width="0.18">0.75</text>
<line x1="45.30" y1="181.70" x2="47.50" y2="181.70" stroke="#333" stroke-width="0.7"/>
<text x="43.20" y="183.80" font-size="6.0" text-anchor="end" fill="#4d4d4d" stroke="#4d4d4d" stroke-width="0.18">1.00</text>
<line x1="60.15" y1="290.40" x2="60.15" y2="292.60" stroke="#333" stroke-width="0.7"/>
<text x="60.15" y="299.00" font-size="5.9" text-anchor="middle" fill="#4d4d4d" stroke="#4d4d4d" stroke-width="0.18">R</text>
<line x1="80.25" y1="290.40" x2="80.25" y2="292.60" stroke="#333" stroke-width="0.7"/>
<text x="80.25" y="299.00" font-size="5.9" text-anchor="middle" fill="#4d4d4d" stroke="#4d4d4d" stroke-width="0.18">NR</text>
<line x1="59.55" y1="183.40" x2="80.85" y2="183.40" stroke="#111" stroke-width="0.9"/>
<text x="70.20" y="182.10" font-size="5.8" text-anchor="middle" font-style="italic" fill="#333" stroke="#333" stroke-width="0.18">6.6e−12</text>
<text x="47.70" y="166.20" font-size="6.5" font-style="italic" stroke="#000" stroke-width="0.18">CXCL9</text>
<text x="47.70" y="173.30" font-size="6.5" stroke="#000" stroke-width="0.18">M1-like TAM</text>
<rect x="127.30" y="190.27" width="10.50" height="95.33" fill="#f1736e"/>
<rect x="148.50" y="278.48" width="10.80" height="7.12" fill="#77ae46"/>
<line x1="118.70" y1="178.30" x2="118.70" y2="290.90" stroke="#000" stroke-width="1.0"/>
<line x1="118.20" y1="290.40" x2="166.70" y2="290.40" stroke="#000" stroke-width="1.0"/>
<line x1="116.50" y1="285.60" x2="118.70" y2="285.60" stroke="#333" stroke-width="0.7"/>
<text x="114.40" y="287.70" font-size="6.0" text-anchor="end" fill="#4d4d4d" stroke="#4d4d4d" stroke-width="0.18">0.0</text>
<line x1="116.50" y1="252.50" x2="118.70" y2="252.50" stroke="#333" stroke-width="0.7"/>
<text x="114.40" y="254.60" font-size="6.0" text-anchor="end" fill="#4d4d4d" stroke="#4d4d4d" stroke-width="0.18">0.2</text>
<line x1="116.50" y1="219.40" x2="118.70" y2="219.40" stroke="#333" stroke-width="0.7"/>
<text x="114.40" y="221.50" font-size="6.0" text-anchor="end" fill="#4d4d4d" stroke="#4d4d4d" stroke-width="0.18">0.4</text>
<line x1="116.50" y1="186.30" x2="118.70" y2="186.30" stroke="#333" stroke-width="0.7"/>
<text x="114.40" y="188.40" font-size="6.0" text-anchor="end" fill="#4d4d4d" stroke="#4d4d4d" stroke-width="0.18">0.6</text>
<line x1="132.55" y1="290.40" x2="132.55" y2="292.60" stroke="#333" stroke-width="0.7"/>
<text x="132.55" y="299.00" font-size="5.9" text-anchor="middle" fill="#4d4d4d" stroke="#4d4d4d" stroke-width="0.18">R</text>
<line x1="153.90" y1="290.40" x2="153.90" y2="292.60" stroke="#333" stroke-width="0.7"/>
<text x="153.90" y="299.00" font-size="5.9" text-anchor="middle" fill="#4d4d4d" stroke="#4d4d4d" stroke-width="0.18">NR</text>
<line x1="131.95" y1="183.40" x2="154.50" y2="183.40" stroke="#111" stroke-width="0.9"/>
<text x="143.23" y="182.10" font-size="5.8" text-anchor="middle" font-style="italic" fill="#333" stroke="#333" stroke-width="0.18">3.8e−143</text>
<text x="118.90" y="166.20" font-size="6.5" font-style="italic" stroke="#000" stroke-width="0.18">CXCL13</text>
<text x="118.90" y="173.30" font-size="6.5" stroke="#000" stroke-width="0.18">CD8+ T cell</text>
<rect x="197.30" y="187.91" width="11.00" height="97.69" fill="#f1736e"/>
<rect x="218.80" y="231.90" width="11.00" height="53.70" fill="#77ae46"/>
<line x1="189.40" y1="178.30" x2="189.40" y2="290.90" stroke="#000" stroke-width="1.0"/>
<line x1="188.90" y1="290.40" x2="237.20" y2="290.40" stroke="#000" stroke-width="1.0"/>
<line x1="187.20" y1="285.60" x2="189.40" y2="285.60" stroke="#333" stroke-width="0.7"/>
<text x="185.10" y="287.70" font-size="6.0" text-anchor="end" fill="#4d4d4d" stroke="#4d4d4d" stroke-width="0.18">0.0</text>
<line x1="187.20" y1="261.30" x2="189.40" y2="261.30" stroke="#333" stroke-width="0.7"/>
<text x="185.10" y="263.40" font-size="6.0" text-anchor="end" fill="#4d4d4d" stroke="#4d4d4d" stroke-width="0.18">0.1</text>
<line x1="187.20" y1="237.00" x2="189.40" y2="237.00" stroke="#333" stroke-width="0.7"/>
<text x="185.10" y="239.10" font-size="6.0" text-anchor="end" fill="#4d4d4d" stroke="#4d4d4d" stroke-width="0.18">0.2</text>
<line x1="187.20" y1="212.70" x2="189.40" y2="212.70" stroke="#333" stroke-width="0.7"/>
<text x="185.10" y="214.80" font-size="6.0" text-anchor="end" fill="#4d4d4d" stroke="#4d4d4d" stroke-width="0.18">0.3</text>
<line x1="187.20" y1="188.40" x2="189.40" y2="188.40" stroke="#333" stroke-width="0.7"/>
<text x="185.10" y="190.50" font-size="6.0" text-anchor="end" fill="#4d4d4d" stroke="#4d4d4d" stroke-width="0.18">0.4</text>
<line x1="202.80" y1="290.40" x2="202.80" y2="292.60" stroke="#333" stroke-width="0.7"/>
<text x="202.80" y="299.00" font-size="5.9" text-anchor="middle" fill="#4d4d4d" stroke="#4d4d4d" stroke-width="0.18">R</text>
<line x1="224.30" y1="290.40" x2="224.30" y2="292.60" stroke="#333" stroke-width="0.7"/>
<text x="224.30" y="299.00" font-size="5.9" text-anchor="middle" fill="#4d4d4d" stroke="#4d4d4d" stroke-width="0.18">NR</text>
<line x1="202.20" y1="183.40" x2="224.90" y2="183.40" stroke="#111" stroke-width="0.9"/>
<text x="213.55" y="182.10" font-size="5.8" text-anchor="middle" font-style="italic" fill="#333" stroke="#333" stroke-width="0.18">1e−18</text>
<text x="189.60" y="166.20" font-size="6.5" font-style="italic" stroke="#000" stroke-width="0.18">IFNG</text>
<text x="189.60" y="173.30" font-size="6.5" stroke="#000" stroke-width="0.18">CD8+ T cell</text>
<rect x="266.60" y="190.47" width="10.70" height="95.13" fill="#f1736e"/>
<rect x="288.60" y="285.15" width="10.50" height="0.45" fill="#77ae46"/>
<line x1="259.00" y1="178.30" x2="259.00" y2="290.90" stroke="#000" stroke-width="1.0"/>
<line x1="258.50" y1="290.40" x2="306.90" y2="290.40" stroke="#000" stroke-width="1.0"/>
<line x1="256.80" y1="285.60" x2="259.00" y2="285.60" stroke="#333" stroke-width="0.7"/>
<text x="254.70" y="287.70" font-size="6.0" text-anchor="end" fill="#4d4d4d" stroke="#4d4d4d" stroke-width="0.18">0.0</text>
<line x1="256.80" y1="247.70" x2="259.00" y2="247.70" stroke="#333" stroke-width="0.7"/>
<text x="254.70" y="249.80" font-size="6.0" text-anchor="end" fill="#4d4d4d" stroke="#4d4d4d" stroke-width="0.18">0.1</text>
<line x1="256.80" y1="209.80" x2="259.00" y2="209.80" stroke="#333" stroke-width="0.7"/>
<text x="254.70" y="211.90" font-size="6.0" text-anchor="end" fill="#4d4d4d" stroke="#4d4d4d" stroke-width="0.18">0.2</text>
<line x1="271.95" y1="290.40" x2="271.95" y2="292.60" stroke="#333" stroke-width="0.7"/>
<text x="271.95" y="299.00" font-size="5.9" text-anchor="middle" fill="#4d4d4d" stroke="#4d4d4d" stroke-width="0.18">R</text>
<line x1="293.85" y1="290.40" x2="293.85" y2="292.60" stroke="#333" stroke-width="0.7"/>
<text x="293.85" y="299.00" font-size="5.9" text-anchor="middle" fill="#4d4d4d" stroke="#4d4d4d" stroke-width="0.18">NR</text>
<line x1="271.35" y1="183.40" x2="294.45" y2="183.40" stroke="#111" stroke-width="0.9"/>
<text x="282.90" y="182.10" font-size="5.8" text-anchor="middle" font-style="italic" fill="#333" stroke="#333" stroke-width="0.18">0.042</text>
<text x="259.20" y="166.20" font-size="6.5" font-style="italic" stroke="#000" stroke-width="0.18">CD274</text>
<text x="259.20" y="173.30" font-size="6.5" stroke="#000" stroke-width="0.18">M1-like TAM</text>
<rect x="366.20" y="252.21" width="10.20" height="33.39" fill="#f1736e"/>
<rect x="387.70" y="188.65" width="10.80" height="96.95" fill="#77ae46"/>
<line x1="358.20" y1="178.30" x2="358.20" y2="290.90" stroke="#000" stroke-width="1.0"/>
<line x1="357.70" y1="290.40" x2="406.20" y2="290.40" stroke="#000" stroke-width="1.0"/>
<line x1="356.00" y1="285.60" x2="358.20" y2="285.60" stroke="#333" stroke-width="0.7"/>
<text x="353.90" y="287.70" font-size="6.0" text-anchor="end" fill="#4d4d4d" stroke="#4d4d4d" stroke-width="0.18">0.0</text>
<line x1="356.00" y1="251.70" x2="358.20" y2="251.70" stroke="#333" stroke-width="0.7"/>
<text x="353.90" y="253.80" font-size="6.0" text-anchor="end" fill="#4d4d4d" stroke="#4d4d4d" stroke-width="0.18">0.2</text>
<line x1="356.00" y1="217.80" x2="358.20" y2="217.80" stroke="#333" stroke-width="0.7"/>
<text x="353.90" y="219.90" font-size="6.0" text-anchor="end" fill="#4d4d4d" stroke="#4d4d4d" stroke-width="0.18">0.4</text>
<line x1="356.00" y1="183.90" x2="358.20" y2="183.90" stroke="#333" stroke-width="0.7"/>
<text x="353.90" y="186.00" font-size="6.0" text-anchor="end" fill="#4d4d4d" stroke="#4d4d4d" stroke-width="0.18">0.6</text>
<line x1="371.30" y1="290.40" x2="371.30" y2="292.60" stroke="#333" stroke-width="0.7"/>
<text x="371.30" y="299.00" font-size="5.9" text-anchor="middle" fill="#4d4d4d" stroke="#4d4d4d" stroke-width="0.18">R</text>
<line x1="393.10" y1="290.40" x2="393.10" y2="292.60" stroke="#333" stroke-width="0.7"/>
<text x="393.10" y="299.00" font-size="5.9" text-anchor="middle" fill="#4d4d4d" stroke="#4d4d4d" stroke-width="0.18">NR</text>
<line x1="370.70" y1="183.40" x2="393.70" y2="183.40" stroke="#111" stroke-width="0.9"/>
<text x="382.20" y="182.10" font-size="5.8" text-anchor="middle" font-style="italic" fill="#333" stroke="#333" stroke-width="0.18">2.8e−08</text>
<text x="358.40" y="166.20" font-size="6.5" font-style="italic" stroke="#000" stroke-width="0.18">FCER1A</text>
<text x="358.40" y="173.30" font-size="6.5" stroke="#000" stroke-width="0.18">DC</text>
<rect x="440.60" y="275.42" width="9.10" height="10.18" fill="#f1736e"/>
<rect x="458.80" y="189.99" width="9.30" height="95.61" fill="#77ae46"/>
<line x1="434.20" y1="178.30" x2="434.20" y2="290.90" stroke="#000" stroke-width="1.0"/>
<line x1="433.70" y1="290.40" x2="474.40" y2="290.40" stroke="#000" stroke-width="1.0"/>
<line x1="432.00" y1="285.60" x2="434.20" y2="285.60" stroke="#333" stroke-width="0.7"/>
<text x="429.90" y="287.70" font-size="6.0" text-anchor="end" fill="#4d4d4d" stroke="#4d4d4d" stroke-width="0.18">0.000</text>
<line x1="432.00" y1="259.10" x2="434.20" y2="259.10" stroke="#333" stroke-width="0.7"/>
<text x="429.90" y="261.20" font-size="6.0" text-anchor="end" fill="#4d4d4d" stroke="#4d4d4d" stroke-width="0.18">0.025</text>
<line x1="432.00" y1="232.60" x2="434.20" y2="232.60" stroke="#333" stroke-width="0.7"/>
<text x="429.90" y="234.70" font-size="6.0" text-anchor="end" fill="#4d4d4d" stroke="#4d4d4d" stroke-width="0.18">0.050</text>
<line x1="432.00" y1="206.10" x2="434.20" y2="206.10" stroke="#333" stroke-width="0.7"/>
<text x="429.90" y="208.20" font-size="6.0" text-anchor="end" fill="#4d4d4d" stroke="#4d4d4d" stroke-width="0.18">0.075</text>
<line x1="432.00" y1="179.60" x2="434.20" y2="179.60" stroke="#333" stroke-width="0.7"/>
<text x="429.90" y="181.70" font-size="6.0" text-anchor="end" fill="#4d4d4d" stroke="#4d4d4d" stroke-width="0.18">0.100</text>
<line x1="445.15" y1="290.40" x2="445.15" y2="292.60" stroke="#333" stroke-width="0.7"/>
<text x="445.15" y="299.00" font-size="5.9" text-anchor="middle" fill="#4d4d4d" stroke="#4d4d4d" stroke-width="0.18">R</text>
<line x1="463.45" y1="290.40" x2="463.45" y2="292.60" stroke="#333" stroke-width="0.7"/>
<text x="463.45" y="299.00" font-size="5.9" text-anchor="middle" fill="#4d4d4d" stroke="#4d4d4d" stroke-width="0.18">NR</text>
<line x1="444.55" y1="183.40" x2="464.05" y2="183.40" stroke="#111" stroke-width="0.9"/>
<text x="454.30" y="182.10" font-size="5.8" text-anchor="middle" font-style="italic" fill="#333" stroke="#333" stroke-width="0.18">1.4e−05</text>
<text x="434.40" y="166.20" font-size="6.5" font-style="italic" stroke="#000" stroke-width="0.18">FCER1A</text>
<text x="434.40" y="173.30" font-size="6.5" stroke="#000" stroke-width="0.18">M2-like TAM</text>
<text x="489.00" y="214.90" font-size="6.3" stroke="#000" stroke-width="0.18">response</text>
<rect x="489.20" y="221.00" width="9.70" height="9.80" fill="#77ae46"/>
<rect x="489.20" y="234.80" width="9.70" height="9.80" fill="#f1736e"/>
<text x="503.00" y="227.40" font-size="6.3" stroke="#000" stroke-width="0.18">NR</text>
<text x="503.20" y="241.30" font-size="6.3" stroke="#000" stroke-width="0.18">R</text>
<text x="0.80" y="332.70" font-size="9" font-weight="bold" stroke="#000" stroke-width="0.18">C</text>
<rect x="79.60" y="339.20" width="253.22" height="79.73" fill="#dfe1e0"/>
<rect x="91.11" y="339.20" width="11.56" height="11.44" fill="#d4d0e8"/>
<rect x="102.62" y="339.20" width="11.56" height="11.44" fill="#c8c0e0"/>
<rect x="114.13" y="339.20" width="11.56" height="11.44" fill="#f8c0bc"/>
<rect x="171.68" y="339.20" width="11.56" height="11.44" fill="#f4a890"/>
<rect x="183.19" y="339.20" width="11.56" height="11.44" fill="#6050a8"/>
<rect x="206.21" y="339.20" width="11.56" height="11.44" fill="#c8c0e4"/>
<rect x="252.25" y="339.20" width="11.56" height="11.44" fill="#f8b0a0"/>
<rect x="263.76" y="339.20" width="11.56" height="11.44" fill="#8878c0"/>
<rect x="286.78" y="339.20" width="11.56" height="11.44" fill="#f8a898"/>
<rect x="298.29" y="339.20" width="11.56" height="11.44" fill="#f4987f"/>
<rect x="79.60" y="350.59" width="11.56" height="11.44" fill="#8e80c0"/>
<rect x="102.62" y="350.59" width="11.56" height="11.44" fill="#dcd8ec"/>
<rect x="148.66" y="350.59" width="11.56" height="11.44" fill="#e82028"/>
<rect x="160.17" y="350.59" width="11.56" height="11.44" fill="#f4b0a0"/>
<rect x="171.68" y="350.59" width="11.56" height="11.44" fill="#f8b8a8"/>
<rect x="183.19" y="350.59" width="11.56" height="11.44" fill="#3a50a8"/>
<rect x="194.70" y="350.59" width="11.56" height="11.44" fill="#c0b8e0"/>
<rect x="206.21" y="350.59" width="11.56" height="11.44" fill="#f8cccc"/>
<rect x="217.72" y="350.59" width="11.56" height="11.44" fill="#ec6848"/>
<rect x="252.25" y="350.59" width="11.56" height="11.44" fill="#e82020"/>
<rect x="263.76" y="350.59" width="11.56" height="11.44" fill="#5050a8"/>
<rect x="275.27" y="350.59" width="11.56" height="11.44" fill="#f8cccc"/>
<rect x="286.78" y="350.59" width="11.56" height="11.44" fill="#e83028"/>
<rect x="298.29" y="350.59" width="11.56" height="11.44" fill="#e82028"/>
<rect x="321.31" y="350.59" width="11.56" height="11.44" fill="#8878c0"/>
<rect x="79.60" y="361.98" width="11.56" height="11.44" fill="#a898cc"/>
<rect x="102.62" y="361.98" width="11.56" height="11.44" fill="#a898cc"/>
<rect x="137.15" y="361.98" width="11.56" height="11.44" fill="#f8d8d8"/>
<rect x="148.66" y="361.98" width="11.56" height="11.44" fill="#e82028"/>
<rect x="160.17" y="361.98" width="11.56" height="11.44" fill="#f08068"/>
<rect x="171.68" y="361.98" width="11.56" height="11.44" fill="#f8b8a8"/>
<rect x="183.19" y="361.98" width="11.56" height="11.44" fill="#a898cc"/>
<rect x="206.21" y="361.98" width="11.56" height="11.44" fill="#ec6848"/>
<rect x="217.72" y="361.98" width="11.56" height="11.44" fill="#e82028"/>
<rect x="240.74" y="361.98" width="11.56" height="11.44" fill="#9888c8"/>
<rect x="275.27" y="361.98" width="11.56" height="11.44" fill="#d4cce8"/>
<rect x="286.78" y="361.98" width="11.56" height="11.44" fill="#ec5038"/>
<rect x="298.29" y="361.98" width="11.56" height="11.44" fill="#f08870"/>
<rect x="148.66" y="373.37" width="11.56" height="11.44" fill="#f4a090"/>
<rect x="217.72" y="373.37" width="11.56" height="11.44" fill="#f8dcdc"/>
<rect x="252.25" y="373.37" width="11.56" height="11.44" fill="#f8aa98"/>
<rect x="263.76" y="373.37" width="11.56" height="11.44" fill="#7868b8"/>
<rect x="286.78" y="373.37" width="11.56" height="11.44" fill="#f4a090"/>
<rect x="298.29" y="373.37" width="11.56" height="11.44" fill="#f8c4c0"/>
<rect x="148.66" y="384.76" width="11.56" height="11.44" fill="#ec4a30"/>
<rect x="217.72" y="384.76" width="11.56" height="11.44" fill="#f8b8a8"/>
<rect x="252.25" y="384.76" width="11.56" height="11.44" fill="#f8aa98"/>
<rect x="263.76" y="384.76" width="11.56" height="11.44" fill="#d0c8e8"/>
<rect x="298.29" y="384.76" width="11.56" height="11.44" fill="#f08878"/>
<rect x="309.80" y="384.76" width="11.56" height="11.44" fill="#f8c8c4"/>
<rect x="102.62" y="396.15" width="11.56" height="11.44" fill="#c8c0e0"/>
<rect x="148.66" y="396.15" width="11.56" height="11.44" fill="#ec4a30"/>
<rect x="171.68" y="396.15" width="11.56" height="11.44" fill="#d0c8e8"/>
<rect x="252.25" y="396.15" width="11.56" height="11.44" fill="#f8aa98"/>
<rect x="298.29" y="396.15" width="11.56" height="11.44" fill="#f8b8a8"/>
<rect x="309.80" y="396.15" width="11.56" height="11.44" fill="#f08068"/>
<rect x="206.21" y="407.54" width="11.56" height="11.44" fill="#9888c8"/>
<line x1="78.30" y1="337.70" x2="78.30" y2="419.90" stroke="#000" stroke-width="1.0"/>
<line x1="77.80" y1="419.40" x2="334.32" y2="419.40" stroke="#000" stroke-width="1.0"/>
<line x1="75.90" y1="344.89" x2="78.30" y2="344.89" stroke="#000" stroke-width="1.0"/>
<text x="72.70" y="347.19" font-size="6.7" text-anchor="end" fill="#111" stroke="#111" stroke-width="0.18">Endometrial (TCGA)</text>
<line x1="75.90" y1="356.28" x2="78.30" y2="356.28" stroke="#000" stroke-width="1.0"/>
<text x="72.70" y="358.58" font-size="6.7" text-anchor="end" fill="#111" stroke="#111" stroke-width="0.18">Colorectal (TCGA)</text>
<line x1="75.90" y1="367.68" x2="78.30" y2="367.68" stroke="#000" stroke-width="1.0"/>
<text x="72.70" y="369.98" font-size="6.7" text-anchor="end" fill="#111" stroke="#111" stroke-width="0.18">Gastric (TCGA)</text>
<line x1="75.90" y1="379.06" x2="78.30" y2="379.06" stroke="#000" stroke-width="1.0"/>
<text x="72.70" y="381.37" font-size="6.7" text-anchor="end" fill="#111" stroke="#111" stroke-width="0.18">Gastric (Kim)</text>
<line x1="75.90" y1="390.45" x2="78.30" y2="390.45" stroke="#000" stroke-width="1.0"/>
<text x="72.70" y="392.75" font-size="6.7" text-anchor="end" fill="#111" stroke="#111" stroke-width="0.18">Urothelial (Mariathasan)</text>
<line x1="75.90" y1="401.84" x2="78.30" y2="401.84" stroke="#000" stroke-width="1.0"/>
<text x="72.70" y="404.14" font-size="6.7" text-anchor="end" fill="#111" stroke="#111" stroke-width="0.18">Melanoma (Gide)</text>
<line x1="75.90" y1="413.24" x2="78.30" y2="413.24" stroke="#000" stroke-width="1.0"/>
<text x="72.70" y="415.54" font-size="6.7" text-anchor="end" fill="#111" stroke="#111" stroke-width="0.18">Melanoma (Liu)</text>
<line x1="85.35" y1="419.40" x2="85.35" y2="422.00" stroke="#000" stroke-width="1.0"/>
<text x="88.35" y="427.20" font-size="6.5" text-anchor="end" fill="#111" stroke="#111" stroke-width="0.18" transform="rotate(-60 88.35 427.20)">B cells memory</text>
<line x1="96.86" y1="419.40" x2="96.86" y2="422.00" stroke="#000" stroke-width="1.0"/>
<text x="99.86" y="427.20" font-size="6.5" text-anchor="end" fill="#111" stroke="#111" stroke-width="0.18" transform="rotate(-60 99.86 427.20)">B cells naive</text>
<line x1="108.38" y1="419.40" x2="108.38" y2="422.00" stroke="#000" stroke-width="1.0"/>
<text x="111.38" y="427.20" font-size="6.5" text-anchor="end" fill="#111" stroke="#111" stroke-width="0.18" transform="rotate(-60 111.38 427.20)">Dendritic cells activated</text>
<line x1="119.88" y1="419.40" x2="119.88" y2="422.00" stroke="#000" stroke-width="1.0"/>
<text x="122.88" y="427.20" font-size="6.5" text-anchor="end" fill="#111" stroke="#111" stroke-width="0.18" transform="rotate(-60 122.88 427.20)">Dendritic cells resting</text>
<line x1="131.39" y1="419.40" x2="131.39" y2="422.00" stroke="#000" stroke-width="1.0"/>
<text x="134.39" y="427.20" font-size="6.5" text-anchor="end" fill="#111" stroke="#111" stroke-width="0.18" transform="rotate(-60 134.39 427.20)">Eosinophils</text>
<line x1="142.91" y1="419.40" x2="142.91" y2="422.00" stroke="#000" stroke-width="1.0"/>
<text x="145.91" y="427.20" font-size="6.5" text-anchor="end" fill="#111" stroke="#111" stroke-width="0.18" transform="rotate(-60 145.91 427.20)">Macrophages M0</text>
<line x1="154.41" y1="419.40" x2="154.41" y2="422.00" stroke="#000" stroke-width="1.0"/>
<text x="157.41" y="427.20" font-size="6.5" text-anchor="end" fill="#111" stroke="#111" stroke-width="0.18" transform="rotate(-60 157.41 427.20)">Macrophages M1</text>
<line x1="165.93" y1="419.40" x2="165.93" y2="422.00" stroke="#000" stroke-width="1.0"/>
<text x="168.93" y="427.20" font-size="6.5" text-anchor="end" fill="#111" stroke="#111" stroke-width="0.18" transform="rotate(-60 168.93 427.20)">Macrophages M2</text>
<line x1="177.44" y1="419.40" x2="177.44" y2="422.00" stroke="#000" stroke-width="1.0"/>
<text x="180.44" y="427.20" font-size="6.5" text-anchor="end" fill="#111" stroke="#111" stroke-width="0.18" transform="rotate(-60 180.44 427.20)">Mast cells activated</text>
<line x1="188.94" y1="419.40" x2="188.94" y2="422.00" stroke="#000" stroke-width="1.0"/>
<text x="191.94" y="427.20" font-size="6.5" text-anchor="end" fill="#111" stroke="#111" stroke-width="0.18" transform="rotate(-60 191.94 427.20)">Mast cells resting</text>
<line x1="200.45" y1="419.40" x2="200.45" y2="422.00" stroke="#000" stroke-width="1.0"/>
<text x="203.45" y="427.20" font-size="6.5" text-anchor="end" fill="#111" stroke="#111" stroke-width="0.18" transform="rotate(-60 203.45 427.20)">Monocytes</text>
<line x1="211.97" y1="419.40" x2="211.97" y2="422.00" stroke="#000" stroke-width="1.0"/>
<text x="214.97" y="427.20" font-size="6.5" text-anchor="end" fill="#111" stroke="#111" stroke-width="0.18" transform="rotate(-60 214.97 427.20)">Neutrophils</text>
<line x1="223.47" y1="419.40" x2="223.47" y2="422.00" stroke="#000" stroke-width="1.0"/>
<text x="226.47" y="427.20" font-size="6.5" text-anchor="end" fill="#111" stroke="#111" stroke-width="0.18" transform="rotate(-60 226.47 427.20)">NK cells activated</text>
<line x1="234.98" y1="419.40" x2="234.98" y2="422.00" stroke="#000" stroke-width="1.0"/>
<text x="237.98" y="427.20" font-size="6.5" text-anchor="end" fill="#111" stroke="#111" stroke-width="0.18" transform="rotate(-60 237.98 427.20)">NK cells resting</text>
<line x1="246.50" y1="419.40" x2="246.50" y2="422.00" stroke="#000" stroke-width="1.0"/>
<text x="249.50" y="427.20" font-size="6.5" text-anchor="end" fill="#111" stroke="#111" stroke-width="0.18" transform="rotate(-60 249.50 427.20)">Plasma cells</text>
<line x1="258.00" y1="419.40" x2="258.00" y2="422.00" stroke="#000" stroke-width="1.0"/>
<text x="261.00" y="427.20" font-size="6.5" text-anchor="end" fill="#111" stroke="#111" stroke-width="0.18" transform="rotate(-60 261.00 427.20)">T cells CD4 memory activated</text>
<line x1="269.51" y1="419.40" x2="269.51" y2="422.00" stroke="#000" stroke-width="1.0"/>
<text x="272.51" y="427.20" font-size="6.5" text-anchor="end" fill="#111" stroke="#111" stroke-width="0.18" transform="rotate(-60 272.51 427.20)">T cells CD4 memory resting</text>
<line x1="281.02" y1="419.40" x2="281.02" y2="422.00" stroke="#000" stroke-width="1.0"/>
<text x="284.02" y="427.20" font-size="6.5" text-anchor="end" fill="#111" stroke="#111" stroke-width="0.18" transform="rotate(-60 284.02 427.20)">T cells CD4 naive</text>
<line x1="292.53" y1="419.40" x2="292.53" y2="422.00" stroke="#000" stroke-width="1.0"/>
<text x="295.53" y="427.20" font-size="6.5" text-anchor="end" fill="#111" stroke="#111" stroke-width="0.18" transform="rotate(-60 295.53 427.20)">T cells CD8</text>
<line x1="304.04" y1="419.40" x2="304.04" y2="422.00" stroke="#000" stroke-width="1.0"/>
<text x="307.04" y="427.20" font-size="6.5" text-anchor="end" fill="#111" stroke="#111" stroke-width="0.18" transform="rotate(-60 307.04 427.20)">T cells follicular helper</text>
<line x1="315.55" y1="419.40" x2="315.55" y2="422.00" stroke="#000" stroke-width="1.0"/>
<text x="318.55" y="427.20" font-size="6.5" text-anchor="end" fill="#111" stroke="#111" stroke-width="0.18" transform="rotate(-60 318.55 427.20)">T cells gamma delta</text>
<line x1="327.06" y1="419.40" x2="327.06" y2="422.00" stroke="#000" stroke-width="1.0"/>
<text x="330.06" y="427.20" font-size="6.5" text-anchor="end" fill="#111" stroke="#111" stroke-width="0.18" transform="rotate(-60 330.06 427.20)">T cells regulatory (Tregs)</text>
<text x="81.00" y="512.40" font-size="6.25" stroke="#000" stroke-width="0.18">−log<tspan font-size="4" dy="1.5">10</tspan><tspan dy="-1.5">(</tspan><tspan font-style="italic">P</tspan>−value)</text>
<rect x="79.90" y="515.10" width="47.30" height="8.60" fill="url(#gC)"/>
<text x="81.10" y="529.90" font-size="6.2" text-anchor="middle" fill="#222" stroke="#222" stroke-width="0.18">6</text>
<text x="88.20" y="529.90" font-size="6.2" text-anchor="middle" fill="#222" stroke="#222" stroke-width="0.18">4</text>
<text x="95.50" y="529.90" font-size="6.2" text-anchor="middle" fill="#222" stroke="#222" stroke-width="0.18">2</text>
<text x="102.70" y="529.90" font-size="6.2" text-anchor="middle" fill="#222" stroke="#222" stroke-width="0.18">0</text>
<text x="110.70" y="529.90" font-size="6.2" text-anchor="middle" fill="#222" stroke="#222" stroke-width="0.18">−2</text>
<text x="118.80" y="529.90" font-size="6.2" text-anchor="middle" fill="#222" stroke="#222" stroke-width="0.18">−4</text>
<text x="126.60" y="529.90" font-size="6.2" text-anchor="middle" fill="#222" stroke="#222" stroke-width="0.18">−6</text>
<text x="362.60" y="332.50" font-size="9" font-weight="bold" stroke="#000" stroke-width="0.18">D</text>
<rect x="445.20" y="332.90" width="34.40" height="160.71" fill="#dfe1e0"/>
<rect x="483.10" y="332.90" width="26.88" height="160.71" fill="#dfe1e0"/>
<rect x="445.20" y="332.90" width="6.93" height="7.35" fill="#e6dcdc"/>
<rect x="452.08" y="332.90" width="6.93" height="7.35" fill="#f4c4c4"/>
<rect x="465.84" y="332.90" width="6.93" height="7.35" fill="#e4dcdc"/>
<rect x="483.10" y="332.90" width="6.77" height="7.35" fill="#ecd4d4"/>
<rect x="489.82" y="332.90" width="6.77" height="7.35" fill="#e4dcdc"/>
<rect x="496.54" y="332.90" width="6.77" height="7.35" fill="#e4dcdc"/>
<rect x="452.08" y="340.20" width="6.93" height="7.35" fill="#f0d0d0"/>
<rect x="465.84" y="340.20" width="6.93" height="7.35" fill="#e4dcdc"/>
<rect x="445.20" y="347.51" width="6.93" height="7.35" fill="#f4d0d0"/>
<rect x="452.08" y="347.51" width="6.93" height="7.35" fill="#ecd4d4"/>
<rect x="458.96" y="347.51" width="6.93" height="7.35" fill="#ecd4d4"/>
<rect x="465.84" y="347.51" width="6.93" height="7.35" fill="#f4c8c8"/>
<rect x="472.72" y="347.51" width="6.93" height="7.35" fill="#f0d0d0"/>
<rect x="483.10" y="347.51" width="6.77" height="7.35" fill="#ecd4d4"/>
<rect x="496.54" y="347.51" width="6.77" height="7.35" fill="#ecd4d4"/>
<rect x="503.26" y="347.51" width="6.77" height="7.35" fill="#ecd4d4"/>
<rect x="483.10" y="354.81" width="6.77" height="7.35" fill="#f8c0c0"/>
<rect x="489.82" y="354.81" width="6.77" height="7.35" fill="#ecd4d4"/>
<rect x="496.54" y="354.81" width="6.77" height="7.35" fill="#e4dcdc"/>
<rect x="483.10" y="362.12" width="6.77" height="7.35" fill="#ecd8d8"/>
<rect x="489.82" y="362.12" width="6.77" height="7.35" fill="#ecd8d8"/>
<rect x="496.54" y="362.12" width="6.77" height="7.35" fill="#f0d0d0"/>
<rect x="483.10" y="369.42" width="6.77" height="7.35" fill="#f4a8a8"/>
<rect x="489.82" y="369.42" width="6.77" height="7.35" fill="#f0cccc"/>
<rect x="496.54" y="369.42" width="6.77" height="7.35" fill="#f0cccc"/>
<rect x="503.26" y="369.42" width="6.77" height="7.35" fill="#f0d0d0"/>
<rect x="452.08" y="376.73" width="6.93" height="7.35" fill="#e4dcdc"/>
<rect x="458.96" y="376.73" width="6.93" height="7.35" fill="#dcdce4"/>
<rect x="483.10" y="376.73" width="6.77" height="7.35" fill="#f4c8c8"/>
<rect x="489.82" y="376.73" width="6.77" height="7.35" fill="#f4c8c8"/>
<rect x="496.54" y="376.73" width="6.77" height="7.35" fill="#f0cccc"/>
<rect x="489.82" y="384.03" width="6.77" height="7.35" fill="#dcdce6"/>
<rect x="445.20" y="398.64" width="6.93" height="7.35" fill="#dcdce6"/>
<rect x="452.08" y="413.25" width="6.93" height="7.35" fill="#dcdce6"/>
<rect x="445.20" y="420.56" width="6.93" height="7.35" fill="#dcdce6"/>
<rect x="452.08" y="420.56" width="6.93" height="7.35" fill="#dcdce6"/>
<rect x="483.10" y="420.56" width="6.77" height="7.35" fill="#dcdce6"/>
<rect x="496.54" y="420.56" width="6.77" height="7.35" fill="#dcdce6"/>
<rect x="472.72" y="427.87" width="6.93" height="7.35" fill="#ecd4d4"/>
<rect x="472.72" y="435.17" width="6.93" height="7.35" fill="#ecd4d4"/>
<rect x="496.54" y="435.17" width="6.77" height="7.35" fill="#e6dcdc"/>
<rect x="465.84" y="442.47" width="6.93" height="7.35" fill="#e4dcdc"/>
<rect x="472.72" y="442.47" width="6.93" height="7.35" fill="#ecd4d4"/>
<rect x="483.10" y="442.47" width="6.77" height="7.35" fill="#dcdce6"/>
<rect x="445.20" y="449.78" width="6.93" height="7.35" fill="#f4b4b4"/>
<rect x="452.08" y="449.78" width="6.93" height="7.35" fill="#f4c4c4"/>
<rect x="458.96" y="449.78" width="6.93" height="7.35" fill="#ec6850"/>
<rect x="465.84" y="449.78" width="6.93" height="7.35" fill="#f4bcbc"/>
<rect x="472.72" y="449.78" width="6.93" height="7.35" fill="#f4b8b8"/>
<rect x="483.10" y="449.78" width="6.77" height="7.35" fill="#dcdce6"/>
<rect x="503.26" y="449.78" width="6.77" height="7.35" fill="#dcdce8"/>
<rect x="445.20" y="457.08" width="6.93" height="7.35" fill="#f4bcbc"/>
<rect x="452.08" y="457.08" width="6.93" height="7.35" fill="#f4c4c4"/>
<rect x="458.96" y="457.08" width="6.93" height="7.35" fill="#f08878"/>
<rect x="465.84" y="457.08" width="6.93" height="7.35" fill="#f4c4c4"/>
<rect x="472.72" y="457.08" width="6.93" height="7.35" fill="#f0cccc"/>
<rect x="445.20" y="464.39" width="6.93" height="7.35" fill="#e41c24"/>
<rect x="452.08" y="464.39" width="6.93" height="7.35" fill="#f09080"/>
<rect x="458.96" y="464.39" width="6.93" height="7.35" fill="#ec5840"/>
<rect x="465.84" y="464.39" width="6.93" height="7.35" fill="#f4a8a0"/>
<rect x="472.72" y="464.39" width="6.93" height="7.35" fill="#f4a8a0"/>
<rect x="445.20" y="471.69" width="6.93" height="7.35" fill="#f0d0d0"/>
<rect x="452.08" y="471.69" width="6.93" height="7.35" fill="#f0d0d0"/>
<rect x="458.96" y="471.69" width="6.93" height="7.35" fill="#f4c8c8"/>
<rect x="465.84" y="471.69" width="6.93" height="7.35" fill="#f0d0d0"/>
<rect x="472.72" y="471.69" width="6.93" height="7.35" fill="#ecd4d4"/>
<rect x="445.20" y="479.00" width="6.93" height="7.35" fill="#f0d0d0"/>
<rect x="452.08" y="479.00" width="6.93" height="7.35" fill="#e8d8d8"/>
<rect x="458.96" y="479.00" width="6.93" height="7.35" fill="#f0cccc"/>
<rect x="465.84" y="479.00" width="6.93" height="7.35" fill="#ecd4d4"/>
<rect x="472.72" y="479.00" width="6.93" height="7.35" fill="#e4dcdc"/>
<rect x="445.20" y="486.30" width="6.93" height="7.35" fill="#f4c8c8"/>
<rect x="452.08" y="486.30" width="6.93" height="7.35" fill="#f4c4c4"/>
<rect x="458.96" y="486.30" width="6.93" height="7.35" fill="#f4c4c4"/>
<rect x="465.84" y="486.30" width="6.93" height="7.35" fill="#f0d0d0"/>
<rect x="472.72" y="486.30" width="6.93" height="7.35" fill="#f0d0d0"/>
<rect x="489.82" y="486.30" width="6.77" height="7.35" fill="#dcdce6"/>
<line x1="444.30" y1="332.00" x2="444.30" y2="494.40" stroke="#000" stroke-width="1.0"/>
<line x1="443.80" y1="493.90" x2="510.28" y2="493.90" stroke="#000" stroke-width="1.0"/>
<text x="441.90" y="338.85" font-size="6.55" text-anchor="end" fill="#111" stroke="#111" stroke-width="0.18">B cells memory</text>
<text x="441.90" y="346.16" font-size="6.55" text-anchor="end" fill="#111" stroke="#111" stroke-width="0.18">B cells naive</text>
<text x="441.90" y="353.46" font-size="6.55" text-anchor="end" fill="#111" stroke="#111" stroke-width="0.18">Macrophages M2</text>
<text x="441.90" y="360.77" font-size="6.55" text-anchor="end" fill="#111" stroke="#111" stroke-width="0.18">Dendritic cells resting</text>
<text x="441.90" y="368.07" font-size="6.55" text-anchor="end" fill="#111" stroke="#111" stroke-width="0.18">Monocytes</text>
<text x="441.90" y="375.38" font-size="6.55" text-anchor="end" fill="#111" stroke="#111" stroke-width="0.18">Mast cells resting</text>
<text x="441.90" y="382.68" font-size="6.55" text-anchor="end" fill="#111" stroke="#111" stroke-width="0.18">T cells CD4 memory resting</text>
<text x="441.90" y="389.99" font-size="6.55" text-anchor="end" fill="#111" stroke="#111" stroke-width="0.18">T cells regulatory (Tregs)</text>
<text x="441.90" y="397.29" font-size="6.55" text-anchor="end" fill="#111" stroke="#111" stroke-width="0.18">Plasma cells</text>
<text x="441.90" y="404.60" font-size="6.55" text-anchor="end" fill="#111" stroke="#111" stroke-width="0.18">Dendritic cells activated</text>
<text x="441.90" y="411.90" font-size="6.55" text-anchor="end" fill="#111" stroke="#111" stroke-width="0.18">T cells CD4 naive</text>
<text x="441.90" y="419.21" font-size="6.55" text-anchor="end" fill="#111" stroke="#111" stroke-width="0.18">Eosinophils</text>
<text x="441.90" y="426.51" font-size="6.55" text-anchor="end" fill="#111" stroke="#111" stroke-width="0.18">NK cells resting</text>
<text x="441.90" y="433.82" font-size="6.55" text-anchor="end" fill="#111" stroke="#111" stroke-width="0.18">Neutrophils</text>
<text x="441.90" y="441.12" font-size="6.55" text-anchor="end" fill="#111" stroke="#111" stroke-width="0.18">Mast cells activated</text>
<text x="441.90" y="448.43" font-size="6.55" text-anchor="end" fill="#111" stroke="#111" stroke-width="0.18">Macrophages M0</text>
<text x="441.90" y="455.73" font-size="6.55" text-anchor="end" fill="#111" stroke="#111" stroke-width="0.18">T cells CD4 memory activated</text>
<text x="441.90" y="463.04" font-size="6.55" text-anchor="end" fill="#111" stroke="#111" stroke-width="0.18">T cells CD8</text>
<text x="441.90" y="470.34" font-size="6.55" text-anchor="end" fill="#111" stroke="#111" stroke-width="0.18">Macrophages M1</text>
<text x="441.90" y="477.65" font-size="6.55" text-anchor="end" fill="#111" stroke="#111" stroke-width="0.18">NK cells activated</text>
<text x="441.90" y="484.95" font-size="6.55" text-anchor="end" fill="#111" stroke="#111" stroke-width="0.18">T cells gamma delta</text>
<text x="441.90" y="492.26" font-size="6.55" text-anchor="end" fill="#111" stroke="#111" stroke-width="0.18">T cells follicular helper</text>
<line x1="448.64" y1="493.90" x2="448.64" y2="495.90" stroke="#000" stroke-width="0.7"/>
<text x="452.64" y="500.80" font-size="6.5" text-anchor="end" font-style="italic" fill="#111" stroke="#111" stroke-width="0.18" transform="rotate(-60 452.64 500.80)">CXCL9</text>
<line x1="455.52" y1="493.90" x2="455.52" y2="495.90" stroke="#000" stroke-width="0.7"/>
<text x="459.52" y="500.80" font-size="6.5" text-anchor="end" font-style="italic" fill="#111" stroke="#111" stroke-width="0.18" transform="rotate(-60 459.52 500.80)">CXCL13</text>
<line x1="462.40" y1="493.90" x2="462.40" y2="495.90" stroke="#000" stroke-width="0.7"/>
<text x="466.40" y="500.80" font-size="6.5" text-anchor="end" font-style="italic" fill="#111" stroke="#111" stroke-width="0.18" transform="rotate(-60 466.40 500.80)">IFNG</text>
<line x1="469.28" y1="493.90" x2="469.28" y2="495.90" stroke="#000" stroke-width="0.7"/>
<text x="473.28" y="500.80" font-size="6.5" text-anchor="end" font-style="italic" fill="#111" stroke="#111" stroke-width="0.18" transform="rotate(-60 473.28 500.80)">KLRD1</text>
<line x1="476.16" y1="493.90" x2="476.16" y2="495.90" stroke="#000" stroke-width="0.7"/>
<text x="480.16" y="500.80" font-size="6.5" text-anchor="end" font-style="italic" fill="#111" stroke="#111" stroke-width="0.18" transform="rotate(-60 480.16 500.80)">CD274</text>
<line x1="486.46" y1="493.90" x2="486.46" y2="495.90" stroke="#000" stroke-width="0.7"/>
<text x="490.46" y="500.80" font-size="6.5" text-anchor="end" font-style="italic" fill="#111" stroke="#111" stroke-width="0.18" transform="rotate(-60 490.46 500.80)">FCER1A</text>
<line x1="493.18" y1="493.90" x2="493.18" y2="495.90" stroke="#000" stroke-width="0.7"/>
<text x="497.18" y="500.80" font-size="6.5" text-anchor="end" font-style="italic" fill="#111" stroke="#111" stroke-width="0.18" transform="rotate(-60 497.18 500.80)">PID1</text>
<line x1="499.90" y1="493.90" x2="499.90" y2="495.90" stroke="#000" stroke-width="0.7"/>
<text x="503.90" y="500.80" font-size="6.5" text-anchor="end" font-style="italic" fill="#111" stroke="#111" stroke-width="0.18" transform="rotate(-60 503.90 500.80)">CH25H</text>
<line x1="506.62" y1="493.90" x2="506.62" y2="495.90" stroke="#000" stroke-width="0.7"/>
<text x="510.62" y="500.80" font-size="6.5" text-anchor="end" font-style="italic" fill="#111" stroke="#111" stroke-width="0.18" transform="rotate(-60 510.62 500.80)">NPR3</text>
<defs><linearGradient id="gD" x1="0" x2="1" y1="0" y2="0">
<stop offset="0" stop-color="#e8141c"/><stop offset="0.5" stop-color="#e2e2e2"/><stop offset="1" stop-color="#2e3c98"/>
</linearGradient></defs>
<text x="374.70" y="523.20" font-size="6.2" stroke="#000" stroke-width="0.18">Pearson <tspan font-style="italic">r</tspan></text>
<rect x="359.90" y="525.40" width="51.50" height="9.00" fill="url(#gD)"/>
<text x="360.40" y="540.80" font-size="6.5" text-anchor="middle" fill="#222" stroke="#222" stroke-width="0.18">0.8</text>
<text x="373.40" y="540.80" font-size="6.5" text-anchor="middle" fill="#222" stroke="#222" stroke-width="0.18">0.4</text>
<text x="386.30" y="540.80" font-size="6.5" text-anchor="middle" fill="#222" stroke="#222" stroke-width="0.18">0.0</text>
<text x="400.20" y="540.80" font-size="6.5" text-anchor="middle" fill="#222" stroke="#222" stroke-width="0.18">−0.4</text>
<text x="412.30" y="540.80" font-size="6.5" text-anchor="middle" fill="#222" stroke="#222" stroke-width="0.18">−0.8</text>
<line x1="436.90" y1="524.90" x2="469.50" y2="524.90" stroke="#e8141c" stroke-width="1.3"/>
<line x1="478.80" y1="524.90" x2="510.80" y2="524.90" stroke="#2e3c98" stroke-width="1.3"/>
<text x="432.60" y="533.10" font-size="6.3" stroke="#000" stroke-width="0.18">upregulated</text>
<text x="432.60" y="540.30" font-size="6.3" stroke="#000" stroke-width="0.18">in responders</text>
<text x="478.80" y="533.10" font-size="6.3" stroke="#000" stroke-width="0.18">downregulated</text>
<text x="478.80" y="540.30" font-size="6.3" stroke="#000" stroke-width="0.18">in responders</text>
</svg>
</body></html>
